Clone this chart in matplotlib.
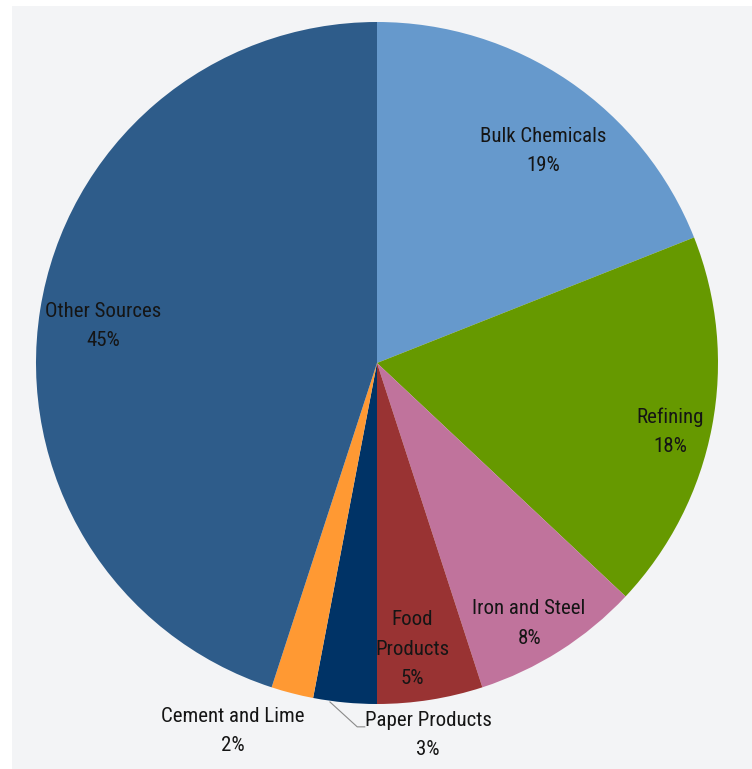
import matplotlib.pyplot as plt
from matplotlib.patches import Rectangle

# Share of emissions by source, clockwise from the top
sources = ['Bulk Chemicals', 'Refining', 'Iron and Steel', 'Food\nProducts',
           'Paper Products', 'Cement and Lime', 'Other Sources']
shares = [19, 18, 8, 5, 3, 2, 45]
colors = ['#6699cc', '#669900', '#c0739c', '#993333',
          '#003366', '#ff9933', '#2e5c8a']

# Label block centres in pie units (radius = 1)
label_pos = [(0.487, 0.621), (0.859, -0.201), (0.446, -0.764), (0.103, -0.839),
             (0.150, -1.091), (-0.422, -1.079), (-0.804, 0.109)]

W, H = 752, 769
fig = plt.figure(figsize=(W / 100, H / 100), dpi=100)
fig.patch.set_facecolor('white')

# light grey panel behind the chart
bg = fig.add_axes([0, 0, 1, 1], zorder=-1)
bg.add_patch(Rectangle((12 / W, 0), 1, (H - 6) / H, facecolor='#f3f4f6', edgecolor='none'))
bg.set_xlim(0, 1)
bg.set_ylim(0, 1)
bg.axis('off')

cx, cy, r = 377, 363, 341
ax = fig.add_axes([(cx - r) / W, (H - cy - r) / H, 2 * r / W, 2 * r / H])
ax.set_facecolor('none')

ax.pie(shares, colors=colors, startangle=90, counterclock=False, radius=1,
       wedgeprops=dict(linewidth=0))
ax.set_xlim(-1, 1)
ax.set_ylim(-1, 1)
ax.set_aspect('equal')
ax.axis('off')

fonts = ['Roboto Condensed', 'Liberation Sans Narrow', 'Liberation Sans', 'DejaVu Sans']
for name, val, (x, y) in zip(sources, shares, label_pos):
    ax.text(x, y, f'{name}\n{val}%', ha='center', va='center', fontsize=15,
            family=fonts, color='#151515', linespacing=1.68, clip_on=False)

# Leader line for the small paper slice
ax.plot([-0.138, -0.058, -0.036], [-0.994, -1.067, -1.067],
        color='#8a8a8a', lw=0.8, clip_on=False)

fig.savefig('out.png', dpi=100)
